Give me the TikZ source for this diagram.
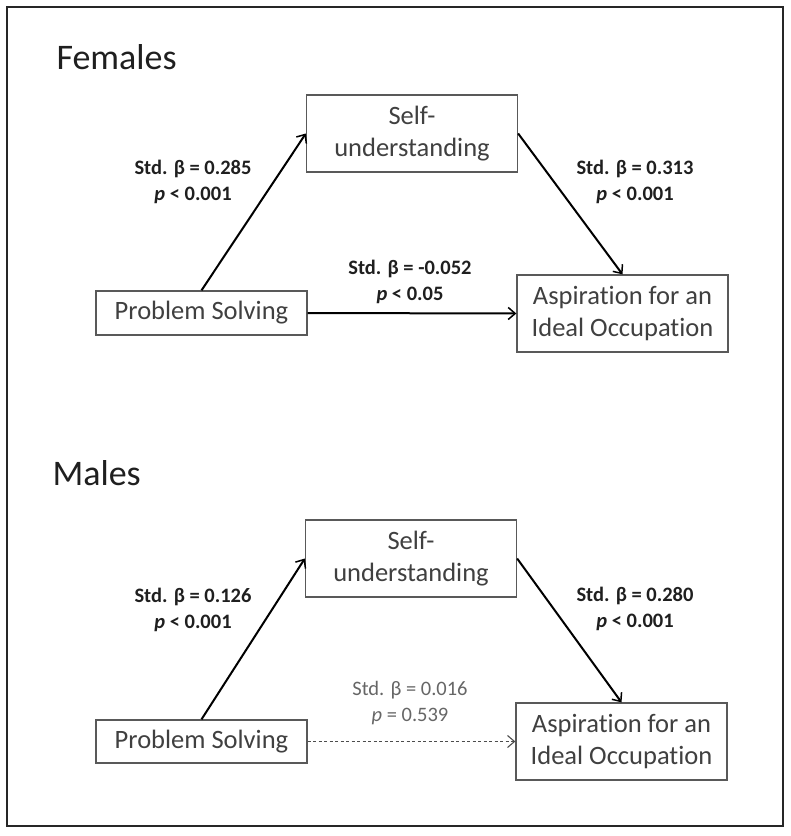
\documentclass[tikz,border=0pt]{standalone}
\usepackage{fontspec}
\setmainfont{Carlito}[Ligatures=NoCommon]
\usetikzlibrary{arrows.meta}

\begin{document}
\begin{tikzpicture}[
  x=1pt,y=-1pt,
  frame/.style={draw=black!85, line width=2.2pt},
  grouphead/.style={anchor=west, font=\fontsize{36}{40}\selectfont, text=black!88},
  varbox/.style={draw=black!65, line width=1.3pt, fill=white, align=center, inner sep=2pt,
    minimum width=211pt, font=\fontsize{26.5}{32}\selectfont, text=black!75},
  path/.style={-{Straight Barb[length=7pt,width=12pt,line width=1.5pt]}, draw=black, line width=2pt},
  nspath/.style={-{Straight Barb[length=7pt,width=12pt,line width=1.1pt]}, draw=black!70, line width=1.2pt, dash pattern=on 3pt off 2.5pt},
  coef/.style={font=\fontsize{20.5}{26}\selectfont\bfseries, text=black!88, align=center},
  nscoef/.style={font=\fontsize{20.5}{26}\selectfont, text=black!60, align=center}
]
  \useasboundingbox (0,0) rectangle (791,836);
  \draw[frame] (7,7) rectangle (783,826);

  % females
  \node[grouphead] (fhead) at (53,57) {Females};
  \node[varbox, minimum height=77pt] (fself) at (412,133.5) {Self-\\understanding};
  \node[varbox, minimum height=44pt] (fprob) at (201.5,313) {Problem Solving};
  \node[varbox, minimum height=77pt] (fasp) at (622.5,313.5) {Aspiration for an\\Ideal Occupation};

  \draw[path] (fprob.north) -- (fself.west);
  \draw[path] (fself.east) -- (fasp.north);
  \draw[path] (fprob.east) -- (fasp.west);

  \node[coef] (fa) at (193,182) {Std. β = 0.285\\\textit{p} < 0.001};
  \node[coef] (fb) at (635,182) {Std. β = 0.313\\\textit{p} < 0.001};
  \node[coef] (fc) at (410,282) {Std. β = -0.052\\\textit{p} < 0.05};

  % males
  \node[grouphead] (mhead) at (49,473) {Males};
  \node[varbox, minimum height=77pt] (mself) at (411,558.5) {Self-\\understanding};
  \node[varbox, minimum height=43pt] (mprob) at (201.5,741.5) {Problem Solving};
  \node[varbox, minimum height=77pt] (masp) at (621.5,741.5) {Aspiration for an\\Ideal Occupation};

  \draw[path] (mprob.north) -- (mself.west);
  \draw[path] (mself.east) -- (masp.north);
  \draw[nspath] (mprob.east) -- (masp.west);

  \node[coef] (ma) at (193,610) {Std. β = 0.126\\\textit{p} < 0.001};
  \node[coef] (mb) at (635,609) {Std. β = 0.280\\\textit{p} < 0.001};
  \node[nscoef] (mc) at (410,703) {Std. β = 0.016\\\textit{p} = 0.539};
\end{tikzpicture}
\end{document}
